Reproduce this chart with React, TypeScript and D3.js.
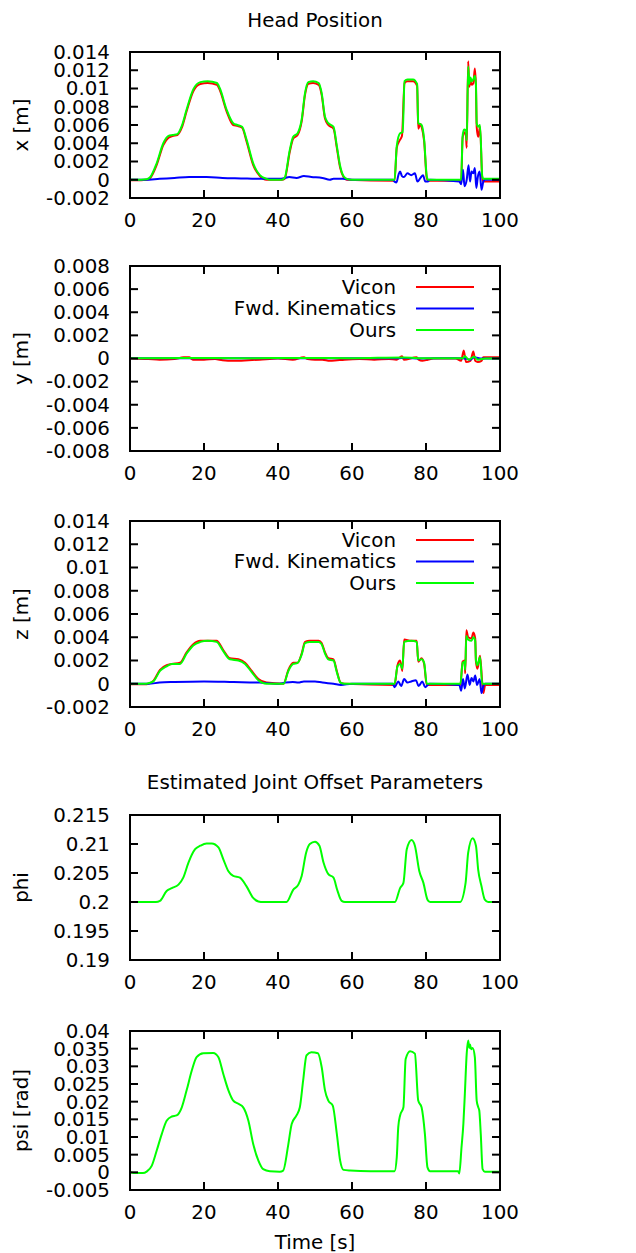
import React from "react";
import * as d3 from "d3";

type Pt = [number, number];

// ---------- tick values / labels ----------
const timeTicks = [0, 20, 40, 60, 80, 100];
const timeTickLabels = ["0", "20", "40", "60", "80", "100"];

const xPosTicks = [-0.002, 0, 0.002, 0.004, 0.006, 0.008, 0.01, 0.012, 0.014];
const xPosTickLabels = ["-0.002", "0", "0.002", "0.004", "0.006", "0.008", "0.01", "0.012", "0.014"];

const yPosTicks = [-0.008, -0.006, -0.004, -0.002, 0, 0.002, 0.004, 0.006, 0.008];
const yPosTickLabels = ["-0.008", "-0.006", "-0.004", "-0.002", "0", "0.002", "0.004", "0.006", "0.008"];

const phiTicks = [0.19, 0.195, 0.2, 0.205, 0.21, 0.215];
const phiTickLabels = ["0.19", "0.195", "0.2", "0.205", "0.21", "0.215"];

const psiTicks = [-0.005, 0, 0.005, 0.01, 0.015, 0.02, 0.025, 0.03, 0.035, 0.04];
const psiTickLabels = ["-0.005", "0", "0.005", "0.01", "0.015", "0.02", "0.025", "0.03", "0.035", "0.04"];

const seriesNames = ["Vicon", "Fwd. Kinematics", "Ours"];

// ---------- data: [time s, value] ----------
const xVicon: Pt[] = [[0,-0.00005],[3,-0.00005],[4.5,0],[5.5,0.0002],[7.2,0.0016],[9,0.0038],[10.4,0.0046],[11.5,0.0048],[12.8,0.0049],[14,0.0057],[15.3,0.0075],[17.1,0.0097],[19,0.0105],[21,0.0106],[23.5,0.0104],[24.3,0.0098],[26.1,0.0075],[27.9,0.006],[29,0.0059],[30.3,0.0057],[31.5,0.0042],[33.3,0.0016],[35.1,0.0004],[36.9,0],[41,0],[41.8,0.0001],[43.2,0.0031],[44.1,0.0045],[45.3,0.0049],[46.4,0.0064],[47.3,0.0093],[48.2,0.0105],[49.5,0.0106],[51,0.0104],[51.8,0.0093],[52.7,0.0067],[53.6,0.006],[55,0.0056],[55.9,0.0035],[56.8,0.0013],[57.7,0.0003],[58.6,0],[71.5,-0.0001],[72.1,0.0035],[73,0.0044],[73.5,0.0048],[74.2,0.0106],[75,0.0108],[76.5,0.0108],[77.6,0.0103],[77.9,0.0056],[78.5,0.0061],[78.8,0.0058],[79.5,0.0042],[80.2,0.0002],[80.6,-0.0001],[89.5,-0.0001],[89.9,0.0046],[90.3,0.0052],[90.8,0.0048],[91.0,0.0035],[91.4,0.013],[91.7,0.0102],[92.0,0.0108],[92.4,0.0104],[92.8,0.0106],[93.2,0.0122],[93.5,0.0102],[93.7,0.0058],[94.1,0.0047],[94.6,0.0058],[95.2,0.0002],[95.5,-0.0002],[100,-0.0002]];
const xFK: Pt[] = [[0,0],[4,0],[8,0.0001],[12,0.0002],[16,0.0003],[20.7,0.0003],[25,0.0002],[30,0.00015],[35,0.0001],[40,0.0001],[42,0.0002],[43,0.0003],[45,0.0002],[47,0.0004],[49,0.0003],[52,0.0002],[54,0],[55,0.0001],[57.5,0.0001],[60,0],[71,0],[71.5,-0.0002],[72,-0.0003],[72.6,0.0006],[73,0.0009],[73.5,0.0004],[74,0.0003],[75,0.0007],[76,0.0005],[77,0.0007],[77.7,-0.0002],[78.5,0.0002],[79.2,0.0005],[79.8,-0.0002],[80.5,-0.0002],[81,0],[89,-0.0002],[89.5,-0.0005],[90,0.0011],[90.4,-0.0007],[91,0],[91.5,0.0016],[91.9,-0.0002],[92.3,0.0009],[92.8,0.0007],[93.2,0.0013],[93.6,-0.0009],[94,0.0003],[94.5,0.0009],[95,-0.0011],[95.5,-0.0002],[96,0],[100,0]];
const xOurs: Pt[] = [[0,0],[3,0],[4.5,0.00005],[5.5,0.0003],[7.2,0.0018],[9,0.004],[10.4,0.0048],[11.5,0.0049],[12.8,0.005],[14,0.0059],[15.3,0.0077],[17.1,0.0099],[19,0.0107],[21,0.0108],[23.5,0.0106],[24.3,0.01],[26.1,0.0077],[27.9,0.0062],[29,0.006],[30.3,0.0058],[31.5,0.0044],[33.3,0.0018],[35.1,0.0005],[36.9,0.0001],[38,0],[41,0],[41.8,0.0002],[43.2,0.0033],[44.1,0.0047],[45.3,0.0051],[46.4,0.0066],[47.3,0.0095],[48.2,0.0107],[49.5,0.0108],[51,0.0106],[51.8,0.0095],[52.7,0.0069],[53.6,0.0062],[55,0.0058],[55.9,0.0037],[56.8,0.0015],[57.7,0.0004],[58.6,0.0001],[60,0],[71.5,0],[72.1,0.0037],[73,0.0051],[73.7,0.0052],[74.2,0.0108],[75,0.011],[76.5,0.011],[77.6,0.0105],[77.9,0.0062],[78.8,0.006],[79.5,0.0044],[80.2,0.0004],[80.6,0],[89.5,0],[89.9,0.0048],[90.3,0.0055],[90.8,0.0054],[91.0,0.0043],[91.4,0.0124],[91.7,0.0105],[92.0,0.0112],[92.4,0.0108],[92.8,0.011],[93.2,0.0114],[93.5,0.0105],[93.7,0.0062],[94.1,0.0058],[94.6,0.006],[95.2,0.0004],[95.5,0.0001],[100,0.0001]];

const yVicon: Pt[] = [[0,0],[5,-0.00005],[8,-0.0001],[12,-0.00005],[14.5,0.0001],[16,0.0001],[17,-0.0001],[20,-0.0001],[23,-0.00005],[25,-0.00015],[28,-0.0002],[32,-0.00015],[35,-0.0001],[40,0],[44,-0.0001],[47,0.0001],[48,-0.00005],[50,-0.0001],[52,-0.0001],[54,-0.0002],[56,-0.00015],[58,-0.0001],[62,-0.00005],[66,-0.0001],[70,-0.00005],[72,-0.0001],[73.5,0.0002],[74,-0.0001],[77.5,0.0001],[78,-0.0001],[79,-0.0002],[80.5,-0.0001],[82,0],[88,0],[89.5,-0.0002],[90.2,0.0007],[90.8,-0.0003],[92,-0.0002],[92.8,0.0006],[93.3,-0.0002],[94,-0.0003],[95,-0.0002],[95.5,0.0001],[100,0.0001]];
const yFK: Pt[] = [[0,0.00003],[20,0.00002],[40,0.00003],[60,0.00003],[72,0.00002],[75,0.00005],[78,0],[90,0.00003],[92,-0.0001],[93,0.0001],[95,0],[100,0]];
const yOurs: Pt[] = [[0,0.00003],[15,0.00005],[30,0.00002],[47,0.00005],[60,0.00003],[74,0.00008],[80,0.00002],[90,0.00003],[90.5,0.0002],[91.5,-0.0001],[93,0.00015],[94,-0.0001],[96,0],[100,0]];

const zVicon: Pt[] = [[0,-0.00005],[4,-0.00005],[5,0],[6.3,0.00025],[8.1,0.0012],[9.9,0.0016],[11.3,0.0017],[13.5,0.0018],[15.3,0.0027],[17.1,0.0034],[19,0.0037],[21,0.0037],[23.4,0.0037],[25.2,0.0029],[27,0.0022],[29.3,0.0021],[31.1,0.0018],[32.9,0.0011],[34.7,0.0004],[36.9,0.0001],[41.5,0],[42.8,0.0012],[44.1,0.0018],[45.3,0.0018],[46.4,0.0026],[47.3,0.0036],[48.6,0.0037],[51,0.0037],[51.8,0.0035],[52.7,0.0027],[53.6,0.0022],[55,0.0021],[55.9,0.0011],[56.9,0.0001],[58,0],[71.5,-0.0001],[72.3,0.0016],[73,0.002],[73.6,0.0011],[74.1,0.0038],[76,0.0037],[77.5,0.0037],[77.9,0.0019],[78.8,0.0022],[79.5,0.0017],[80.2,-0.0001],[89.3,-0.0001],[89.9,0.0019],[90.4,0.002],[90.6,0.0009],[90.9,0.0046],[91.4,0.004],[92.3,0.0039],[92.8,0.0044],[93.3,0.0039],[93.5,0.0019],[93.9,0.0013],[94.6,0.0024],[95.2,0.0001],[95.5,-0.0008],[96,-0.0001],[100,-0.0001]];
const zFK: Pt[] = [[0,0],[5,0],[8,0.0001],[12,0.00015],[20,0.0002],[28,0.00015],[35,0.0001],[40,0],[42,0.0001],[44,0.00015],[45.5,0.0001],[47,0.0002],[50,0.0002],[52,0.0001],[55,0],[57,-0.0001],[60,0],[71,0],[71.5,-0.0003],[72.5,0.0002],[73.3,-0.0002],[74.1,0.0004],[75,0.0001],[76,0.0002],[77.3,0.0003],[78,-0.0002],[79,0.0002],[79.8,-0.0003],[80.5,-0.0001],[81,0],[89,-0.0001],[89.5,-0.0006],[90,0.0004],[90.5,-0.0004],[91.2,0.0008],[91.8,-0.0001],[92.3,0.0005],[92.8,0.0002],[93.3,0.0007],[93.8,-0.0001],[94.5,0.0004],[95,-0.0008],[95.5,-0.0002],[96,0],[100,0]];
const zOurs: Pt[] = [[0,0],[4,0],[5,0.00005],[6.3,0.0002],[8.1,0.0011],[9.9,0.0015],[11.3,0.0017],[13.5,0.0017],[15.3,0.0026],[17.1,0.0033],[19,0.0036],[21,0.0037],[23.4,0.0036],[25.2,0.0028],[27,0.0021],[29.3,0.002],[31.1,0.0017],[32.9,0.001],[34.7,0.0003],[36.9,0],[41.5,0],[42.8,0.0011],[44.1,0.0017],[45.3,0.0018],[46.4,0.0025],[47.3,0.0035],[48.6,0.0036],[51,0.0036],[51.8,0.0034],[52.7,0.0026],[53.6,0.0021],[55,0.002],[55.9,0.001],[56.9,0.0001],[58,0],[71.5,0],[72.3,0.0015],[73,0.0017],[73.6,0.0013],[74.1,0.0036],[76,0.0037],[77.5,0.0036],[77.9,0.002],[78.8,0.0021],[79.5,0.0018],[80.2,0],[89.3,0],[89.9,0.0018],[90.4,0.0019],[90.6,0.0012],[90.9,0.0041],[91.4,0.0038],[92.3,0.0037],[92.8,0.004],[93.3,0.0037],[93.5,0.002],[93.9,0.0016],[94.6,0.0023],[95.2,0],[100,0]];

const phiOurs: Pt[] = [[0,0.2],[7,0.2],[8.1,0.2002],[9.9,0.2019],[11.3,0.2024],[13.1,0.203],[14.4,0.2042],[15.8,0.2068],[17.6,0.2091],[19,0.2097],[20.7,0.2101],[22.1,0.2101],[23.9,0.2094],[25.2,0.2074],[26.6,0.2053],[27.9,0.2045],[29.7,0.2042],[31.5,0.2027],[33.3,0.2007],[34.7,0.2001],[36,0.2],[42.3,0.2],[44.1,0.2021],[45.5,0.203],[46.4,0.2045],[47.6,0.2085],[48.6,0.21],[50,0.2104],[51.2,0.2097],[52.3,0.2068],[53.6,0.2048],[55,0.2042],[56,0.2021],[57.2,0.2002],[58.1,0.2],[71.6,0.2],[73,0.2024],[73.9,0.2033],[74.8,0.2091],[76.1,0.2107],[77,0.2097],[78.2,0.2053],[79.3,0.2033],[80.4,0.2004],[81.1,0.2],[89.2,0.2],[90.7,0.2033],[91.4,0.2085],[92.6,0.211],[93.5,0.2097],[94.1,0.2056],[95,0.2027],[95.9,0.2004],[96.8,0.2],[100,0.2]];

const psiOurs: Pt[] = [[0,0],[1,-0.0002],[3.5,-0.0002],[4.5,0.0002],[5.9,0.0019],[7.2,0.0061],[8.6,0.0109],[9.9,0.0146],[11.3,0.0158],[12.6,0.0161],[14,0.0184],[15.3,0.0232],[16.7,0.0288],[18,0.0326],[19.8,0.0337],[22.5,0.0338],[23.9,0.0326],[25.2,0.0279],[26.6,0.0232],[27.9,0.0203],[29.3,0.0194],[30.6,0.0184],[32,0.0146],[33.3,0.008],[34.7,0.0033],[36,0.0009],[37.8,0.0003],[40.5,0.0002],[41.4,0.0005],[42.8,0.008],[43.7,0.0137],[45,0.0161],[45.9,0.0184],[46.8,0.026],[47.7,0.0331],[49,0.034],[50.8,0.0337],[51.8,0.0298],[52.7,0.0232],[53.6,0.0203],[54.8,0.0189],[55.9,0.0109],[56.8,0.0033],[57.7,0.0007],[59.5,0.0005],[65,0.0003],[71.5,0.0003],[72.1,0.0043],[72.5,0.0128],[73,0.0161],[73.9,0.0184],[74.5,0.0321],[75.7,0.0343],[77,0.0336],[77.9,0.0203],[78.8,0.0184],[79.7,0.0109],[80.4,0.0014],[81.1,0.0003],[88.7,0.0003],[89,-0.0003],[89.6,0.0071],[90.1,0.0137],[90.5,0.0222],[91,0.0336],[91.4,0.0373],[91.7,0.0352],[91.9,0.0362],[92.2,0.0348],[92.6,0.0352],[93.2,0.0326],[93.7,0.0203],[94.1,0.0185],[94.4,0.0175],[94.8,0.0109],[95.3,0.0009],[95.9,0.0002],[100,0.0002]];

// ---------- layout / style ----------
const W = 636;
const H = 1253;
const LEFT = 130;
const RIGHT = 500;
const FONT = "DejaVu Sans, sans-serif";
const FS = 19;
const SX = 1.045; // slight horizontal stretch of glyphs as in the reference raster
const COLORS = ["#ff0000", "#0000ff", "#00ff00"];

type Panel = {
  top: number;
  bottom: number;
  domain: [number, number];
  ticks: number[];
  labels: string[];
  ylabel: string;
  series: Pt[][];
  colors: string[];
  legendY?: number;
};

const panels: Panel[] = [
  { top: 52, bottom: 198, domain: [-0.002, 0.014], ticks: xPosTicks, labels: xPosTickLabels, ylabel: "x [m]", series: [xVicon, xFK, xOurs], colors: COLORS },
  { top: 266, bottom: 451, domain: [-0.008, 0.008], ticks: yPosTicks, labels: yPosTickLabels, ylabel: "y [m]", series: [yVicon, yFK, yOurs], colors: COLORS, legendY: 287 },
  { top: 521, bottom: 707, domain: [-0.002, 0.014], ticks: xPosTicks, labels: xPosTickLabels, ylabel: "z [m]", series: [zVicon, zFK, zOurs], colors: COLORS, legendY: 540 },
  { top: 815, bottom: 960, domain: [0.19, 0.215], ticks: phiTicks, labels: phiTickLabels, ylabel: "phi", series: [phiOurs], colors: [COLORS[2]] },
  { top: 1031, bottom: 1190, domain: [-0.005, 0.04], ticks: psiTicks, labels: psiTickLabels, ylabel: "psi [rad]", series: [psiOurs], colors: [COLORS[2]] },
];

const xScale = d3.scaleLinear().domain([0, 100]).range([LEFT, RIGHT]);
const TICK = 8;

function T({
  x,
  y,
  anchor,
  dy,
  rotate,
  children,
}: {
  x: number;
  y: number;
  anchor: "start" | "middle" | "end";
  dy?: string;
  rotate?: boolean;
  children: React.ReactNode;
}) {
  const tr = rotate
    ? `translate(${x},${y}) rotate(-90) scale(${SX},1)`
    : `translate(${x},${y}) scale(${SX},1)`;
  return (
    <text transform={tr} textAnchor={anchor} dy={dy} fontSize={FS} fontFamily={FONT} fill="#000">
      {children}
    </text>
  );
}

function PanelView({ p }: { p: Panel }) {
  const y = d3.scaleLinear().domain(p.domain).range([p.bottom, p.top]);
  const line = d3
    .line<Pt>()
    .x((d) => xScale(d[0]))
    .y((d) => y(d[1]))
    .curve(d3.curveMonotoneX);
  const cy = (p.top + p.bottom) / 2;
  return (
    <g>
      <defs>
        <clipPath id={`clip-${p.top}`}>
          <rect x={LEFT} y={p.top} width={RIGHT - LEFT} height={p.bottom - p.top} />
        </clipPath>
      </defs>
      <g clipPath={`url(#clip-${p.top})`}>
        {p.series.map((s, i) => (
          <path key={i} d={line(s) || ""} fill="none" stroke={p.colors[i]} strokeWidth={2} strokeLinejoin="round" />
        ))}
      </g>
      {p.ticks.map((t, i) => (
        <g key={"yt" + i}>
          <line x1={LEFT} x2={LEFT + TICK} y1={y(t)} y2={y(t)} stroke="#000" strokeWidth={2} />
          <line x1={RIGHT} x2={RIGHT - TICK} y1={y(t)} y2={y(t)} stroke="#000" strokeWidth={2} />
          <T x={110} y={y(t)} dy="0.36em" anchor="end">
            {p.labels[i]}
          </T>
        </g>
      ))}
      {timeTicks.map((t, i) => (
        <g key={"xt" + i}>
          <line x1={xScale(t)} x2={xScale(t)} y1={p.bottom} y2={p.bottom - TICK} stroke="#000" strokeWidth={2} />
          <line x1={xScale(t)} x2={xScale(t)} y1={p.top} y2={p.top + TICK} stroke="#000" strokeWidth={2} />
          <T x={xScale(t)} y={p.bottom + 29} anchor="middle">
            {timeTickLabels[i]}
          </T>
        </g>
      ))}
      <rect x={LEFT} y={p.top} width={RIGHT - LEFT} height={p.bottom - p.top} fill="none" stroke="#000" strokeWidth={2} />
      <T x={21} y={cy} dy="0.35em" anchor="middle" rotate>
        {p.ylabel}
      </T>
      {p.legendY !== undefined &&
        seriesNames.map((n, i) => {
          const ly = (p.legendY as number) + i * 21.5;
          return (
            <g key={"lg" + i}>
              <T x={396} y={ly} dy="0.35em" anchor="end">
                {n}
              </T>
              <line x1={416} x2={474} y1={ly} y2={ly} stroke={COLORS[i]} strokeWidth={2} />
            </g>
          );
        })}
    </g>
  );
}

export default function App() {
  return (
    <svg
      width={W}
      height={H}
      style={{ position: "absolute", left: 0, top: 0, background: "#fff" }}
    >
      <rect x={0} y={0} width={W} height={H} fill="#fff" />
      <T x={315} y={27} anchor="middle">
        Head Position
      </T>
      <T x={315} y={789} anchor="middle">
        Estimated Joint Offset Parameters
      </T>
      <T x={315} y={1249} anchor="middle">
        Time [s]
      </T>
      {panels.map((p, i) => (
        <PanelView key={i} p={p} />
      ))}
    </svg>
  );
}
